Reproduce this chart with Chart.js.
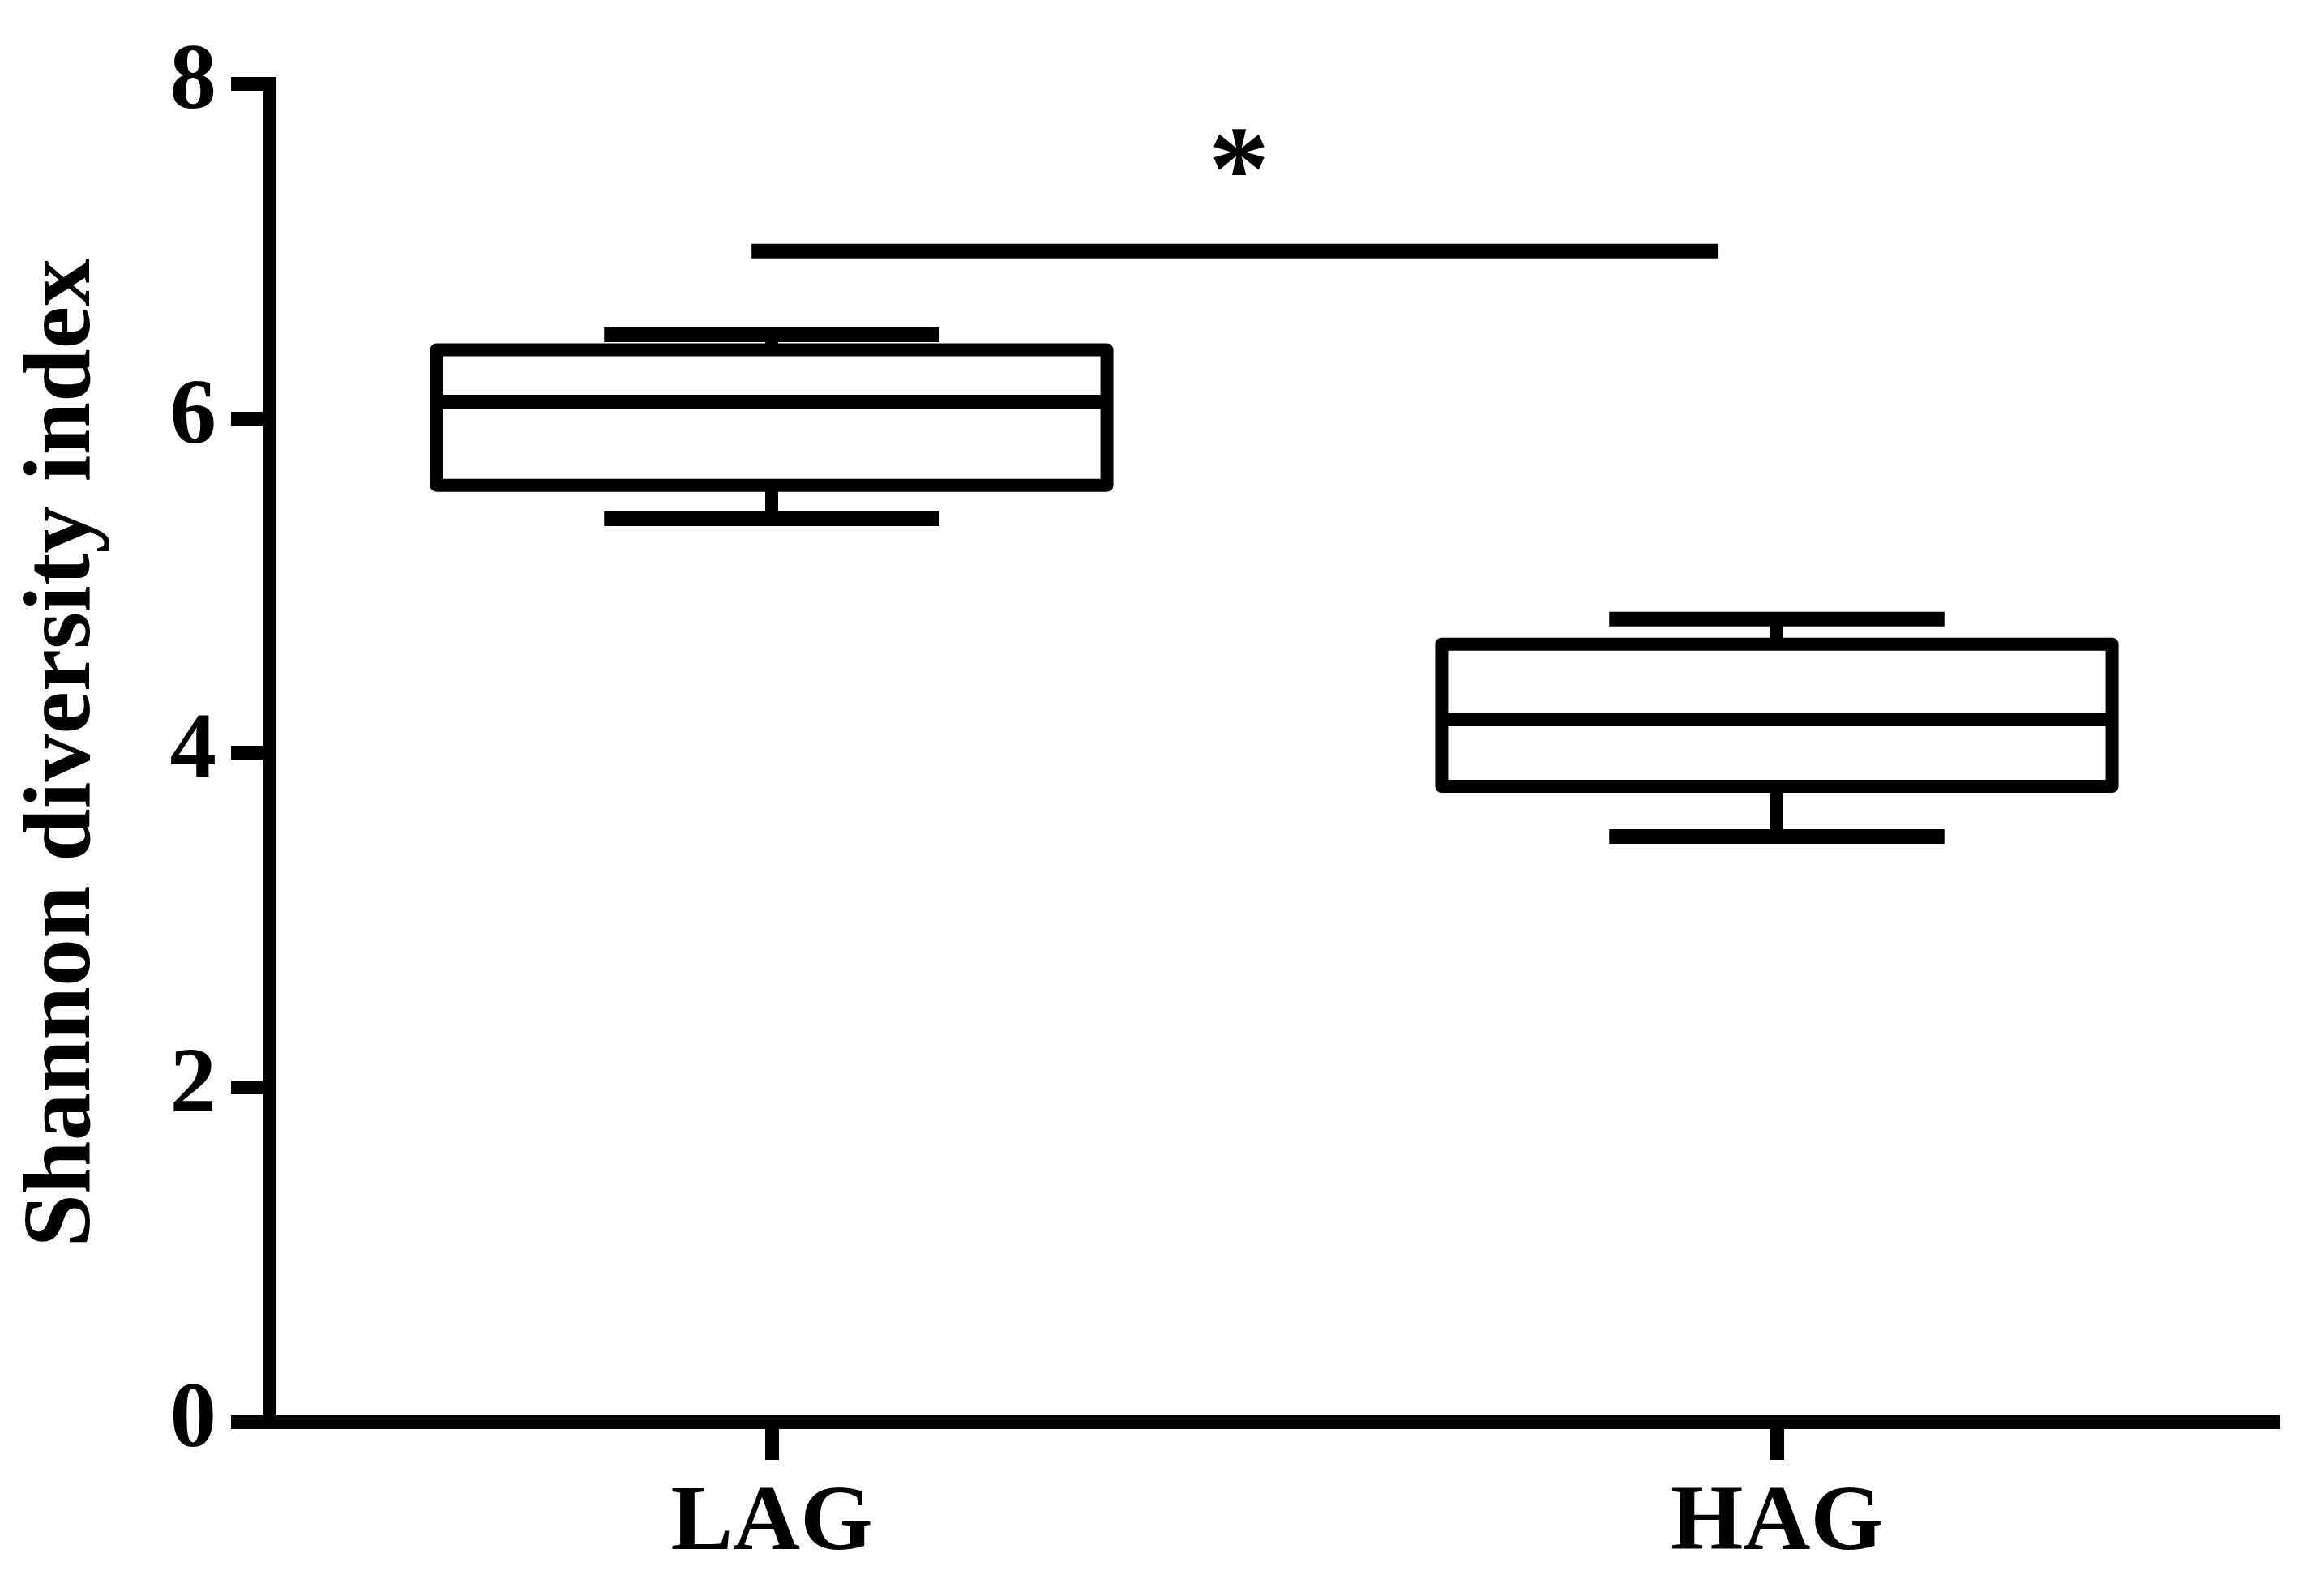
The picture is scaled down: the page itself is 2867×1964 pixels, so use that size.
<!DOCTYPE html>
<html>
<head>
<meta charset="utf-8">
<title>Shannon diversity index</title>
<script src="https://cdn.jsdelivr.net/npm/chart.js@4.4.1/dist/chart.umd.min.js"></script>
<style>
  html, body { margin: 0; padding: 0; background: #fff; }
  #wrap { width: 2867px; height: 1964px; position: relative; }
</style>
</head>
<body>
<div id="wrap"><canvas id="box"></canvas></div>
<script>
// values
const groups = ["LAG", "HAG"];
const whiskerLow = [5.40, 3.50];
const q1 = [5.60, 3.80];
const median = [6.10, 4.20];
const q3 = [6.41, 4.65];
const whiskerHigh = [6.50, 4.80];
const yTicks = [0, 2, 4, 6, 8];
const sigLevel = 7;
const sigMark = "*";

const FONT = "'Liberation Serif', 'Times New Roman', serif";
const LW = 16;

// median, whiskers and the significance bar, drawn through the chart's scales
const boxPlot = {
  id: "boxPlot",
  afterDatasetsDraw(chart, args, opts) {
    const ctx = chart.ctx;
    const x = chart.scales.x;
    const y = chart.scales.y;
    const meta = chart.getDatasetMeta(0);

    ctx.save();
    ctx.strokeStyle = "#000";
    ctx.lineCap = "butt";

    meta.data.forEach((bar, i) => {
      const cx = bar.x;
      const w = bar.width;
      const top = y.getPixelForValue(q3[i]);
      const bottom = y.getPixelForValue(q1[i]);
      const med = y.getPixelForValue(median[i]);
      const hi = y.getPixelForValue(whiskerHigh[i]);
      const lo = y.getPixelForValue(whiskerLow[i]);

      // whiskers
      ctx.lineWidth = LW;
      ctx.beginPath();
      ctx.moveTo(cx, top); ctx.lineTo(cx, hi);
      ctx.moveTo(cx, bottom); ctx.lineTo(cx, lo);
      ctx.stroke();

      ctx.lineWidth = LW + 2;
      ctx.beginPath();
      ctx.moveTo(cx - w / 4, hi); ctx.lineTo(cx + w / 4, hi);
      ctx.moveTo(cx - w / 4, lo); ctx.lineTo(cx + w / 4, lo);
      ctx.stroke();

      // box
      ctx.lineWidth = LW;
      ctx.lineJoin = "round";
      ctx.fillStyle = "#fff";
      ctx.fillRect(cx - w / 2, top, w, bottom - top);
      ctx.strokeRect(cx - w / 2, top, w, bottom - top);

      // median
      ctx.lineWidth = LW + 1;
      ctx.beginPath();
      ctx.moveTo(cx - w / 2, med); ctx.lineTo(cx + w / 2, med);
      ctx.stroke();
    });

    // significance line and star
    const sy = y.getPixelForValue(sigLevel);
    ctx.lineWidth = 18;
    ctx.beginPath();
    ctx.moveTo(x.getPixelForValue(opts.from), sy);
    ctx.lineTo(x.getPixelForValue(opts.to), sy);
    ctx.stroke();

    ctx.fillStyle = "#000";
    ctx.font = "bold 150px " + FONT;
    ctx.textAlign = "center";
    ctx.textBaseline = "middle";
    ctx.fillText(sigMark, x.getPixelForValue(opts.star), y.getPixelForValue(opts.starLevel) + 30);
    ctx.restore();
  }
};

new Chart(document.getElementById("box"), {
  type: "bar",
  data: {
    labels: groups,
    datasets: [{
      label: "Shannon diversity index",
      data: groups.map((g, i) => [q1[i], q3[i]]),
      backgroundColor: "rgba(0,0,0,0)",
      borderWidth: 0,
      categoryPercentage: 1,
      barPercentage: 0.667
    }]
  },
  options: {
    responsive: true,
    maintainAspectRatio: false,
    animation: false,
    layout: { padding: { left: 9, top: 103.5, right: 55, bottom: 0 } },
    plugins: {
      legend: { display: false },
      tooltip: { enabled: false },
      boxPlot: { from: -0.02, to: 0.942, star: 0.465, starLevel: 7.58 }
    },
    scales: {
      x: {
        offset: true,
        grid: {
          offset: false,
          drawOnChartArea: false,
          drawTicks: true,
          tickLength: 47,
          tickWidth: 17,
          tickColor: "#000",
          color: "#000"
        },
        border: { display: true, color: "#000", width: 17 },
        ticks: {
          color: "#000",
          padding: 11,
          font: { family: FONT, size: 115, weight: "bold" }
        },
        afterFit(scale) { scale.height = 210; }
      },
      y: {
        min: 0,
        max: 8,
        afterBuildTicks(scale) { scale.ticks = yTicks.map(v => ({ value: v })); },
        grid: {
          drawOnChartArea: false,
          drawTicks: true,
          tickLength: 47,
          tickWidth: 17,
          tickColor: "#000",
          color: "#000"
        },
        border: { display: true, color: "#000", width: 17 },
        ticks: {
          color: "#000",
          padding: 18,
          font: { family: FONT, size: 115, weight: "bold" }
        },
        title: {
          display: true,
          text: "Shannon diversity index",
          color: "#000",
          padding: 0,
          font: { family: FONT, size: 118, weight: "bold" }
        },
        afterFit(scale) { scale.width = 323; }
      }
    }
  },
  plugins: [boxPlot]
});
</script>
</body>
</html>
